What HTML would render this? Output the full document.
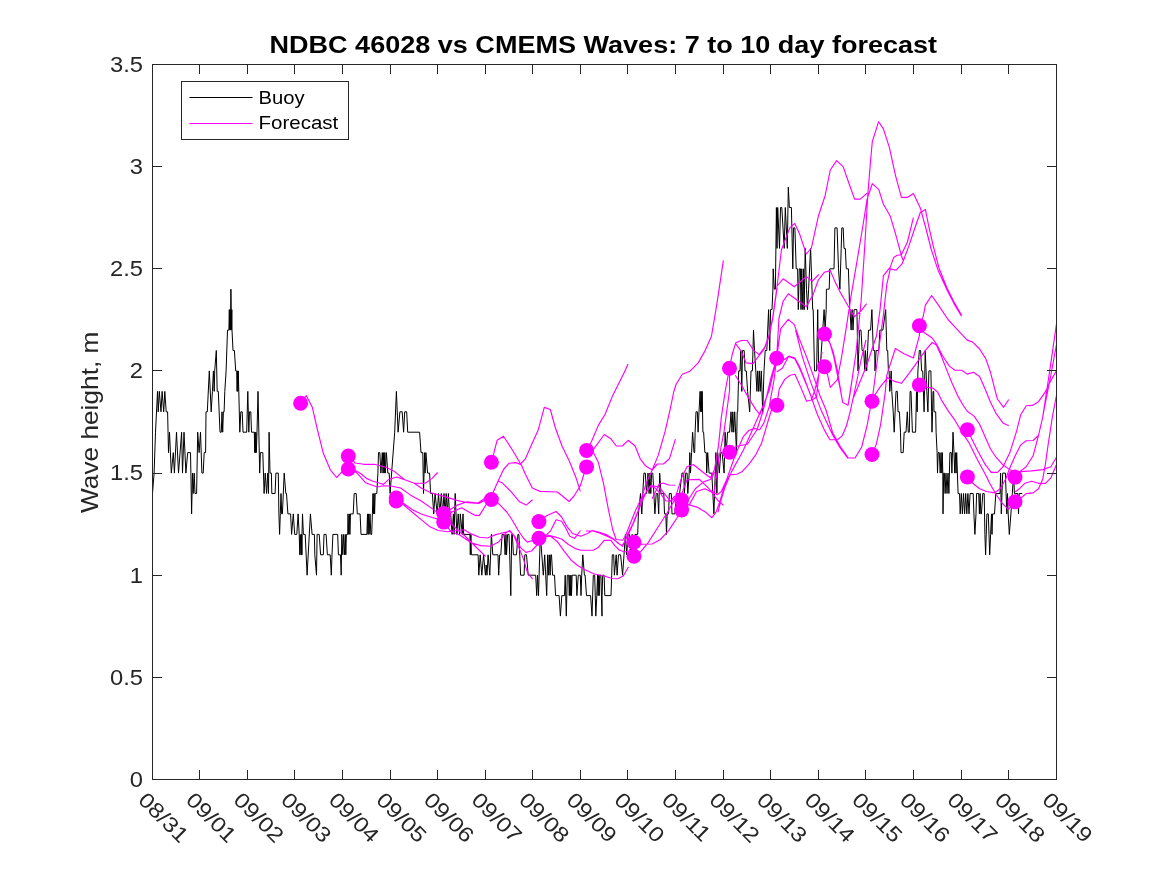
<!DOCTYPE html>
<html><head><meta charset="utf-8"><title>chart</title>
<style>
html,body{margin:0;padding:0;background:#fff;}
body{width:1167px;height:875px;overflow:hidden;font-family:"Liberation Sans",sans-serif;}
svg{display:block;will-change:transform}
text{font-family:"Liberation Sans",sans-serif;fill:#262626}
.xl{font-size:21.2px}
.yl{font-size:21.2px}
.ylab{font-size:23.3px}
.title{font-size:23px;font-weight:bold;fill:#000}
.lg{font-size:18.9px;fill:#000}
</style></head><body>
<svg width="1167" height="875" viewBox="0 0 1167 875">
<rect x="0" y="0" width="1167" height="875" fill="#fff"/>
<defs><clipPath id="cp"><rect x="152.5" y="64.5" width="904.0" height="715.0"/></clipPath></defs>
<g clip-path="url(#cp)" fill="none" stroke-linejoin="round">
<path d="M152.5,493.5 154.1,473.1 155.5,432.2 157.5,391.4 158.2,411.8 159.3,391.4 161.0,411.8 162.1,391.4 163.7,411.8 164.8,391.4 166.2,411.8 167.6,411.8 168.5,452.6 169.5,432.2 171.3,473.1 173.3,452.6 174.4,473.1 176.5,432.2 178.5,473.1 181.6,432.2 182.5,473.1 184.0,432.2 185.9,473.1 187.7,452.6 190.5,452.6 190.9,473.1 191.6,513.9 192.5,473.1 193.2,493.5 194.2,473.1 195.0,493.5 196.6,493.5 197.7,432.2 199.1,452.6 200.5,432.2 201.9,473.1 203.2,473.1 204.2,452.6 205.6,452.6 206.0,411.8 207.3,411.8 209.3,370.9 211.2,411.8 212.4,391.4 213.4,370.9 214.2,391.4 214.7,370.9 216.3,350.5 217.2,391.4 218.3,391.4 220.0,432.2 221.3,432.2 222.0,411.8 222.7,432.2 223.4,411.8 224.1,411.8 224.8,391.4 226.1,370.9 227.5,330.1 228.9,330.1 229.3,309.6 229.7,330.1 230.1,309.6 230.5,330.1 230.9,289.2 231.5,330.1 231.8,309.6 232.0,330.1 233.0,350.5 234.4,350.5 235.7,370.9 236.7,370.9 237.1,391.4 237.5,370.9 237.9,391.4 238.3,370.9 238.8,391.4 239.8,432.2 240.8,411.8 242.2,411.8 243.0,432.2 246.7,432.2 247.8,391.4 248.8,432.2 249.5,411.8 250.8,411.8 251.5,432.2 254.3,432.2 254.7,452.6 255.1,432.2 255.5,452.6 255.9,432.2 256.3,452.6 257.0,432.2 258.0,391.4 259.7,473.1 260.4,452.6 262.8,452.6 264.1,493.5 265.2,473.1 266.6,493.5 267.7,473.1 268.5,493.5 269.1,432.2 270.0,473.1 271.4,473.1 271.8,493.5 275.1,493.5 275.9,473.1 278.3,473.1 278.9,513.9 279.6,534.4 280.3,513.9 281.0,493.5 281.7,513.9 282.4,513.9 284.2,473.1 285.8,493.5 286.5,493.5 287.9,513.9 290.6,513.9 291.6,534.4 293.3,513.9 294.7,534.4 296.8,534.4 298.1,513.9 299.2,534.4 299.8,554.8 300.3,534.4 300.9,554.8 301.6,554.8 301.7,534.4 301.9,554.8 302.0,534.4 302.5,513.9 303.4,534.4 305.2,534.4 307.1,575.2 310.4,513.9 312.1,534.4 314.4,534.4 314.8,554.8 316.5,575.2 317.1,534.4 319.2,534.4 320.6,554.8 323.3,554.8 324.0,534.4 326.1,534.4 327.4,554.8 330.2,554.8 331.3,575.2 332.0,554.8 332.9,534.4 337.7,534.4 338.4,554.8 340.5,554.8 341.2,575.2 341.8,534.4 342.8,554.8 343.6,534.4 344.6,554.8 345.3,534.4 345.8,554.8 346.4,534.4 347.7,534.4 348.0,513.9 348.7,534.4 349.4,513.9 349.9,534.4 350.5,513.9 353.2,513.9 354.2,493.5 356.2,493.5 357.3,513.9 360.1,513.9 361.0,534.4 366.9,534.4 367.5,513.9 368.0,534.4 368.6,513.9 369.1,534.4 370.0,513.9 370.8,534.4 371.7,534.4 372.4,513.9 373.0,493.5 373.5,513.9 374.1,493.5 374.6,513.9 375.2,493.5 376.8,493.5 377.9,473.1 378.5,452.6 379.8,452.6 380.9,473.1 382.3,452.6 383.0,473.1 383.7,452.6 384.2,473.1 384.8,452.6 385.3,473.1 386.4,452.6 387.8,473.1 389.2,473.1 390.1,493.5 391.6,473.1 394.7,432.2 396.4,391.4 398.1,432.2 399.9,411.8 402.2,411.8 403.6,432.2 404.7,411.8 406.7,411.8 407.7,432.2 419.6,432.2 421.0,452.6 422.8,452.6 423.5,493.5 424.6,452.6 425.1,473.1 425.9,452.6 427.6,473.1 429.6,473.1 430.6,493.5 432.4,493.5 433.7,513.9 435.1,493.5 437.2,513.9 438.5,493.5 439.9,513.9 441.3,493.5 442.7,513.9 444.0,493.5 445.1,513.9 446.2,493.5 447.3,513.9 448.4,493.5 449.5,513.9 450.7,513.9 452.1,534.4 453.4,513.9 454.1,534.4 455.2,493.5 456.9,534.4 458.2,513.9 459.6,534.4 460.3,513.9 462.3,534.4 463.0,513.9 463.7,534.4 469.9,534.4 470.3,554.8 470.9,534.4 471.4,554.8 478.1,554.8 478.8,575.2 480.2,554.8 481.8,575.2 483.6,554.8 485.4,575.2 486.2,565.0 487.0,575.2 488.1,554.8 489.8,575.2 491.4,534.4 492.8,554.8 498.0,554.8 498.7,575.2 499.7,554.8 500.8,554.8 502.1,534.4 504.2,534.4 505.1,554.8 506.0,534.4 506.5,554.8 507.6,534.4 509.0,534.4 509.7,554.8 510.8,595.6 511.7,534.4 512.4,534.4 513.4,554.8 516.5,554.8 517.9,534.4 518.9,534.4 520.6,575.2 524.1,575.2 524.8,554.8 526.5,554.8 528.2,575.2 535.7,575.2 536.7,595.6 537.5,575.2 538.5,595.6 540.3,534.4 543.3,575.2 544.7,554.8 545.7,575.2 546.7,595.6 547.7,554.8 548.5,575.2 549.3,554.8 550.1,575.2 550.8,554.8 551.5,554.8 552.6,575.2 554.5,575.2 555.6,595.6 559.1,595.6 560.4,616.1 561.8,595.6 564.5,595.6 565.2,575.2 566.3,616.1 567.3,575.2 568.7,575.2 569.3,595.6 569.9,575.2 570.4,595.6 571.0,575.2 571.5,595.6 572.1,575.2 576.2,575.2 576.9,595.6 578.3,575.2 580.3,575.2 581.0,595.6 581.7,575.2 582.8,554.8 584.4,575.2 585.1,575.2 586.5,595.6 590.6,595.6 592.0,616.1 593.3,575.2 594.7,575.2 595.8,616.1 596.8,595.6 597.6,575.2 598.1,595.6 598.7,575.2 599.2,595.6 599.8,575.2 600.9,575.2 602.0,616.1 602.1,595.6 602.7,575.2 604.1,575.2 604.8,595.6 611.0,595.6 611.7,575.2 612.3,554.8 613.7,554.8 614.4,575.2 616.2,554.8 617.1,575.2 618.5,554.8 620.6,554.8 622.6,575.2 624.0,554.8 625.4,534.4 626.7,554.8 628.1,534.4 629.5,534.4 630.9,554.8 632.2,534.4 633.6,554.8 635.0,534.4 637.7,534.4 638.4,513.9 640.5,493.5 641.8,513.9 642.8,493.5 643.9,473.1 645.3,473.1 646.6,493.5 648.0,473.1 649.1,493.5 649.9,473.1 650.8,493.5 651.6,473.1 652.8,473.1 654.9,513.9 656.2,493.5 657.6,493.5 658.7,513.9 659.7,473.1 661.0,493.5 663.8,493.5 664.5,513.9 665.8,513.9 666.5,534.4 667.2,513.9 668.6,513.9 669.3,493.5 671.3,493.5 672.0,513.9 674.8,513.9 676.8,493.5 679.6,493.5 682.0,473.1 683.7,473.1 684.4,493.5 685.7,473.1 687.1,473.1 687.8,493.5 689.2,473.1 689.8,452.6 690.5,473.1 691.6,452.6 692.6,432.2 694.0,452.6 694.7,452.6 695.1,432.2 696.0,411.8 697.4,411.8 698.1,432.2 699.0,411.8 700.1,391.4 700.7,411.8 701.2,391.4 701.8,411.8 702.2,391.4 702.9,432.2 703.6,432.2 704.9,452.6 706.3,452.6 706.7,473.1 707.7,452.6 709.1,473.1 711.8,473.1 713.9,513.9 715.9,452.6 716.9,493.5 717.7,452.6 719.3,473.1 720.7,452.6 722.1,452.6 724.1,473.1 725.1,432.2 726.2,452.6 727.6,432.2 729.6,432.2 731.0,411.8 732.0,432.2 732.8,411.8 733.7,432.2 734.7,411.8 736.5,452.6 737.2,411.8 737.7,411.8 738.7,370.9 740.0,370.9 740.8,350.5 741.8,391.4 742.5,350.5 744.2,350.5 745.0,370.9 746.3,370.9 747.6,391.4 749.7,411.8 751.0,370.9 752.4,370.9 753.5,330.1 754.5,350.5 755.8,370.9 756.9,391.4 757.6,370.9 758.5,391.4 759.3,370.9 760.2,391.4 761.3,370.9 762.7,411.8 764.0,370.9 765.2,350.5 766.8,350.5 768.6,309.6 769.7,350.5 770.6,309.6 772.0,309.6 772.9,289.2 773.2,268.8 774.3,289.2 775.4,289.2 776.4,207.5 777.0,248.4 777.7,207.5 779.5,248.4 780.5,207.5 781.8,207.5 784.2,248.4 785.3,207.5 787.3,248.4 788.3,187.1 789.4,207.5 791.4,207.5 792.8,268.8 793.5,227.9 794.9,227.9 796.2,268.8 797.6,268.8 798.3,309.6 799.3,268.8 800.4,268.8 801.0,309.6 801.7,268.8 802.8,309.6 803.4,268.8 804.2,309.6 805.2,248.4 806.5,289.2 807.5,309.6 808.6,289.2 810.6,248.4 812.7,309.6 813.2,309.6 814.5,370.9 816.6,370.9 817.7,309.6 818.7,370.9 820.0,370.9 824.1,309.6 825.1,330.1 826.2,309.6 826.4,289.2 829.2,289.2 829.8,268.8 834.0,268.8 834.9,227.9 837.1,227.9 838.5,268.8 839.9,289.2 841.2,248.4 841.8,227.9 843.2,227.9 844.0,248.4 845.3,248.4 846.3,268.8 848.4,268.8 849.7,309.6 850.0,309.6 851.1,330.1 852.1,309.6 853.0,330.1 854.1,309.6 856.9,309.6 858.0,370.9 859.6,330.1 861.0,330.1 862.1,350.5 863.7,350.5 864.8,370.9 865.4,350.5 866.7,370.9 867.6,350.5 868.5,330.1 870.6,330.1 871.9,309.6 873.3,350.5 874.7,350.5 875.0,370.9 876.1,350.5 878.8,350.5 879.9,330.1 882.9,330.1 885.7,309.6 886.8,350.5 887.7,350.5 888.4,370.9 889.1,370.9 889.8,391.4 891.2,370.9 891.8,391.4 893.2,411.8 894.2,432.2 896.0,391.4 897.3,391.4 898.0,411.8 899.4,411.8 900.5,432.2 901.0,452.6 903.2,452.6 904.2,432.2 906.0,432.2 907.3,411.8 908.3,432.2 909.3,432.2 910.1,391.4 911.0,391.4 912.4,432.2 915.6,432.2 916.5,391.4 917.2,411.8 917.9,370.9 919.3,350.5 920.6,350.5 921.6,370.9 922.7,370.9 924.1,411.8 925.2,350.5 926.1,370.9 926.8,391.4 927.9,411.8 928.9,370.9 930.9,370.9 931.6,411.8 932.0,432.2 932.6,411.8 933.0,391.4 933.7,391.4 934.0,411.8 935.7,411.8 936.1,432.2 937.1,452.6 937.5,473.1 938.2,452.6 939.3,452.6 940.2,473.1 941.0,452.6 941.8,473.1 942.3,452.6 942.8,473.1 943.0,513.9 943.7,473.1 944.4,473.1 945.1,493.5 946.0,473.1 947.0,493.5 948.0,473.1 948.9,493.5 949.9,452.6 951.3,452.6 951.9,473.1 953.0,432.2 954.0,452.6 954.7,473.1 955.4,452.6 956.1,473.1 956.7,452.6 958.1,493.5 959.5,493.5 960.2,513.9 961.3,493.5 962.4,513.9 963.5,493.5 964.6,513.9 965.7,493.5 966.8,513.9 967.9,493.5 969.0,513.9 970.1,493.5 973.2,493.5 973.9,513.9 974.9,534.4 976.0,513.9 976.6,493.5 978.7,493.5 979.4,513.9 980.1,493.5 980.8,513.9 981.4,513.9 982.8,493.5 984.2,493.5 984.9,534.4 985.6,554.8 986.9,513.9 988.3,513.9 989.7,554.8 990.6,534.4 991.5,513.9 992.0,534.4 992.6,513.9 994.5,513.9 995.8,493.5 1000.0,493.5 1000.6,473.1 1001.3,513.9 1002.7,473.1 1005.4,473.1 1006.1,493.5 1006.8,513.9 1007.5,493.5 1008.2,513.9 1009.3,534.4 1010.9,513.9 1012.3,493.5 1013.7,473.1 1014.4,493.5 1015.7,493.5 1017.8,493.5 1018.5,513.9 1019.2,493.5 1022.2,493.5" stroke="#000" stroke-width="1"/>
<path d="M300.6,403.3 306.3,395.6 312.3,407.3 317.4,429.6 323.4,453.6 330.3,469.8 336.6,477.5 341.4,472.4 348.3,469.0 356.8,471.2 362.0,474.5 366.3,478.4 372.3,481.0 379.1,483.0 383.4,484.4 388.2,479.8 396.5,477.0 404.7,479.8 414.3,483.2 425.3,483.2 432.1,478.4 437.6,472.5M348.3,456.1 355.1,463.0 363.7,464.3 374.0,464.3 386.0,467.3 393.7,470.9 404.7,479.8 414.3,483.2 421.2,488.0 430.8,492.8 445.8,496.9 456.8,500.4 467.8,502.8 478.8,503.4 484.3,500.4 491.4,499.5M348.3,469.0 356.0,472.4 360.3,476.7 365.4,482.7 372.3,485.3 377.4,487.0 383.4,485.8 391.0,486.0 400.6,488.0 410.2,494.9 421.2,501.0 432.1,508.6 437.6,512.7 443.8,514.8 450.0,522.3 456.8,529.2 465.0,536.0 476.0,547.0 485.6,556.5M396.2,499.0 404.0,503.8 412.9,510.0 421.2,514.0 432.1,517.5 437.6,518.9 443.8,521.6 450.6,512.6 461.6,507.8 469.8,512.6 475.3,515.4 479.4,515.4 484.9,506.5 491.5,496.0 498.0,481.2 502.3,482.8 510.8,491.4 519.4,501.7 526.3,505.1 532.5,499.7M396.2,501.0 404.0,505.2 412.9,512.7 421.2,519.6 429.4,526.4 438.2,530.5 447.8,531.8 457.4,530.5 464.3,529.8 471.2,533.9 479.4,537.3 487.6,538.0 495.8,534.6 504.1,532.5 509.6,531.2 513.7,535.3 517.8,544.9 523.3,558.6 527.4,572.3 532.6,579.2M443.7,522.2 450.6,531.2 460.2,535.3 471.2,542.8 480.8,545.6 490.4,546.2 498.6,542.1 504.8,533.9 509.6,530.5 515.0,536.6 520.5,547.6 526.0,552.4 531.5,551.0 539.0,543.0 546.5,534.9 550.6,530.8 556.1,519.8 561.6,521.2 565.7,528.0 569.8,536.2 574.6,538.3 580.5,530.5M443.7,513.5 450.6,509.2 457.4,505.1 467.0,501.7 478.0,503.0 484.9,498.2 491.5,496.0 498.0,481.2 503.5,469.5 508.9,463.3 515.8,462.6 521.3,464.7 525.4,474.3 532.3,488.0 540.0,491.4 557.4,492.0 563.0,496.5 569.1,501.5 574.0,496.0 580.1,486.3 584.0,474.0 586.6,467.0M491.3,462.3 493.7,453.7 497.1,440.3 503.5,436.2 512.6,450.3 520.6,464.0 525.4,458.8 531.4,445.1 538.3,429.7 544.3,407.4 550.3,409.5 555.4,428.0 562.3,446.8 569.1,460.5 576.0,477.7 580.3,491.4M491.5,499.3 498.6,503.7 506.8,512.0 512.3,520.2 517.8,529.8 523.3,538.0 527.4,542.1 531.5,540.8 539.0,538.3 546.6,536.6 550.6,536.2 557.4,541.7 564.3,551.3 571.2,560.2 578.0,565.7 584.9,569.8 594.5,574.0 604.1,576.0 612.3,578.5 617.8,578.8 623.3,576.0 628.5,566.7M538.9,521.8 546.5,515.7 556.1,511.5 561.6,517.0 567.0,526.6 572.5,533.5 580.8,536.2 587.6,533.5 592.4,530.5 598.6,532.1 606.8,534.9 613.7,539.0 617.8,543.1 621.9,545.8 624.6,541.7 628.8,533.5 634.3,521.2 639.7,507.4 646.6,491.0 650.7,485.5 659.0,486.9 664.4,493.7 669.9,500.6 675.4,499.2 681.8,498.8M538.9,538.3 546.5,534.9 554.7,536.9 561.6,539.0 568.4,544.5 575.3,548.6 580.8,550.2 593.1,550.2 598.6,547.2 604.1,540.4 610.9,540.4 615.0,545.8 619.2,550.0 624.6,552.0 628.8,551.3 634.0,542.0M586.6,450.3 591.4,441.7 598.3,425.4 605.1,414.3 612.0,397.1 620.5,380.0 624.5,372.0 628.0,364.0M586.6,458.0 594.0,448.6 604.3,434.5 611.1,439.1 616.3,446.0 622.2,446.0 628.2,440.3 635.1,446.0 640.2,458.8 645.4,465.7 652.2,470.0 657.4,464.0 663.4,464.0 669.4,458.8 675.4,439.1M586.6,450.4 593.1,452.0 598.3,462.3 603.4,482.8 608.5,510.2 612.8,530.0 616.2,539.5 622.6,540.2 625.4,536.0 630.2,523.7 635.7,510.0 641.2,498.8 646.6,482.3 652.2,470.0 658.2,455.4 665.1,431.4 670.2,409.1 673.7,392.0 676.0,384.5 682.3,374.2 690.0,371.2 698.2,362.9 705.1,350.6 711.4,336.5 716.6,305.7 723.4,260.4M586.0,531.0 593.0,531.0 600.0,533.3 608.2,536.7 613.7,539.5 622.6,546.4 627.4,534.7 632.9,523.7 638.4,510.0 643.9,495.0 650.8,486.4 654.9,487.8 660.4,493.3 665.8,500.8 670.0,501.5 674.8,496.0M652.1,498.8 659.0,484.4 663.1,483.0 668.6,485.0 675.4,485.3M634.0,542.2 641.2,544.3 652.1,544.0 660.4,539.5 668.6,530.6 676.8,518.2 681.8,509.0M634.0,556.3 641.2,551.2 648.0,542.9 657.6,527.8 667.2,512.7 674.7,499.7 681.6,477.8 687.0,466.8 693.2,464.5 698.0,468.2 704.9,473.7 710.4,477.8 714.5,469.6 718.6,444.9 721.3,417.4 725.4,390.0 729.5,368.3M681.6,494.3 687.0,479.8 699.4,479.4 704.9,484.7 710.4,490.1 717.2,494.9 721.3,491.5 726.8,479.2 735.0,455.8 743.3,436.6 748.8,430.5 754.3,428.4 759.7,429.8 763.9,422.9 769.3,406.5 770.7,398.2 774.0,380.0 776.7,358.2M681.8,509.0 688.4,499.7 695.3,488.8 703.5,481.9 711.0,479.2 714.5,472.3M681.8,509.0 689.8,503.9 696.6,491.5 704.9,488.8 711.7,492.2 717.2,499.7 723.4,505.2M729.6,452.4 736.4,446.2 747.4,444.2 751.5,438.0 757.0,429.8 762.7,412.3 766.8,395.8 770.9,378.0 776.7,358.2M681.8,509.0 687.4,504.4 697.0,507.1 705.3,511.9 711.9,517.7 716.2,511.9 720.4,499.6 724.5,485.8 730.0,474.9 736.8,474.2 742.3,471.4 749.2,463.9 756.0,454.3 761.5,443.3 765.6,429.6 768.4,420.0 773.5,403.7 776.9,405.3M713.5,496.8 716.2,478.0 718.6,460.0 724.1,431.2 729.6,390.0 729.5,368.3M718.0,512.0 720.4,502.3 724.5,488.6 731.3,472.1 743.3,450.3 754.3,425.7 763.9,403.7 769.3,390.0 776.7,358.2M735.3,375.3 742.1,386.2 749.0,398.6 755.8,409.6 760.0,414.4 763.9,403.7M729.5,368.3 732.2,354.5 735.7,342.8 741.2,340.5 747.3,340.5 753.5,350.4 759.0,354.5 764.5,347.6 768.6,336.6 772.7,317.4 777.1,286.0 781.4,250.0 785.7,238.5 790.0,227.4 794.8,223.5 799.4,233.4 806.3,254.0 811.4,248.0 818.3,216.3 825.1,195.7 830.3,170.0 836.6,160.6 843.1,166.6 849.1,183.7 854.6,199.1 860.3,199.1 867.1,193.1M735.3,343.0 740.8,350.6 746.2,362.9 753.1,363.6 758.6,356.1 764.1,349.2 768.6,338.0 772.7,319.0 777.1,288.0M777.1,286.0 783.1,278.8 794.3,286.8 806.3,276.6 812.3,281.2 818.8,274.5M776.7,358.2 778.9,318.5 783.1,301.4 788.3,293.7 797.0,300.0 806.3,306.6 813.1,294.6 818.3,280.0 824.3,272.3 830.3,270.6 835.4,282.6 840.5,292.8 847.4,304.8 854.3,316.8 861.1,310.8 866.6,303.6M776.7,358.2 780.6,328.8 788.3,319.4 794.3,324.6 799.4,339.1 806.3,356.3 813.1,375.1 820.0,395.7 826.0,410.0 832.7,432.9 840.0,446.0 848.3,458.0 855.0,458.0 861.7,447.0 867.3,424.6 870.6,406.7 871.7,401.2M776.8,372.0 782.3,368.2 788.5,356.5 794.7,358.6 800.1,369.6 807.0,386.0 812.5,399.7 816.6,397.0 818.7,375.0 822.0,352.0M776.8,405.3 779.2,389.0 784.7,379.4 790.1,375.3 794.9,374.2 799.7,384.9 806.6,401.3 811.4,400.0 814.8,390.4 818.9,373.9M776.7,358.1 784.7,359.5 788.8,356.1 794.9,358.1 799.7,367.0 805.2,380.8 810.7,395.8 817.6,415.0 824.4,430.1 829.9,439.7 837.5,439.7 842.3,435.6 846.4,426.0 850.0,412.3 856.0,385.0 861.0,360.0 866.0,340.0M795.6,330.0 802.5,357.4 810.7,382.1 821.2,410.6 832.2,433.9 839.5,447.0 848.0,458.5M824.5,334.0 829.6,342.1 833.1,351.7 837.2,369.6 842.7,402.5 848.1,405.2 852.3,377.8 856.0,352.8M824.5,366.7 827.6,375.0 830.3,387.4 837.2,379.8 841.3,358.6 846.8,324.3 850.9,296.9 856.0,267.1 862.8,226.5 867.1,199.1 872.3,183.7 878.8,189.7 883.4,204.3 890.3,216.3 895.4,233.4 901.4,255.7 903.0,260.0M849.1,400.0 856.0,352.8 861.1,301.4 864.5,250.0 868.0,192.3 870.5,161.4 872.3,141.7 878.6,121.7 883.4,128.9 889.4,147.7 895.4,175.1 901.4,197.4 907.4,197.4 913.4,193.5 920.2,207.7 925.4,226.5 931.4,250.0 938.2,270.6 946.8,289.4 953.7,303.1 961.5,316.1M872.3,399.0 878.3,352.8 883.4,315.1 886.8,284.3 890.3,268.9 896.2,270.2 902.2,263.7 909.1,245.4 914.2,230.0 920.2,212.8 925.4,209.4 928.8,226.5 933.1,245.4 939.0,268.0 947.0,288.0 954.0,302.0 961.5,315.0M852.5,400.0 866.3,366.5 876.5,335.7 880.0,310.0 883.4,275.7 890.3,267.1 893.7,257.4 897.1,255.3 901.4,254.8 907.4,242.0 913.4,217.6M872.0,454.5 876.2,444.6 880.6,424.6 885.1,393.4 886.8,375.1 895.4,348.5 904.0,353.7 913.4,358.0 919.4,335.7 919.4,325.7M872.3,399.0 880.0,387.1 887.7,377.7 893.7,381.1 901.4,383.3 909.1,373.4 917.7,361.4 926.2,349.4 932.2,342.5 936.4,344.9 941.2,355.8 946.6,369.6 952.1,383.3 957.6,395.6 963.1,405.2 967.2,411.3 974.1,416.1 979.6,424.3 985.0,436.6 990.5,449.0 996.0,457.2 1002.9,464.8 1009.7,469.6 1015.0,472.3M919.5,325.7 923.3,316.1 925.4,305.1 931.6,295.5 938.4,305.1 948.0,319.5 957.6,329.8 967.2,340.1 972.7,342.1 979.6,349.0 985.7,358.6 990.5,372.3 994.7,388.8 997.4,399.0 1003.6,407.3 1008.8,399.5M919.5,325.7 924.0,332.5 932.2,338.0 937.0,344.9 942.5,355.8 949.4,366.1 954.9,370.2 961.7,370.2 967.2,374.1 973.4,372.3 979.6,376.4 985.0,388.8 990.5,402.3 996.0,413.3 1002.9,422.9 1008.8,425.7M919.4,384.9 927.4,387.4 932.9,388.1 937.7,392.2 941.2,399.6 948.0,410.6 954.9,420.2 960.4,429.8 968.6,442.1 976.8,458.6 985.0,473.7 990.5,484.7 996.0,494.3 1001.5,502.5 1008.4,509.4 1015.0,501.8M967.5,429.8 971.3,438.0 978.2,451.7 985.0,464.1 991.2,472.3 997.4,472.3 1002.9,466.8 1009.7,453.1 1016.6,431.2 1020.7,414.7 1026.2,405.8 1032.4,405.4 1038.5,401.7 1044.7,392.9 1050.9,380.5 1056.4,370.9M967.5,477.1 972.7,483.3 979.6,488.8 986.4,491.5 994.7,492.9 1000.1,488.8 1005.6,479.2 1009.7,468.2 1015.2,455.8 1020.7,444.9 1026.2,440.8 1033.1,440.5 1038.5,435.3 1042.7,417.4 1046.8,390.0 1049.5,372.3 1056.4,324.3M1015.0,477.1 1020.7,470.9 1026.2,466.8 1033.1,455.8 1038.5,435.3M1015.0,477.1 1020.7,471.6 1031.7,470.9 1042.7,469.6 1050.9,466.8 1056.4,457.2M1015.0,492.0 1019.3,488.8 1024.8,483.3 1031.7,481.2 1038.5,483.3 1045.4,483.3 1050.9,477.8 1056.4,464.8M1015.0,501.8 1022.1,497.0 1026.2,493.6 1033.1,492.9 1038.5,488.8 1042.7,479.2 1045.4,464.1 1048.1,444.9 1052.3,417.4 1056.4,395.5M1042.7,417.4 1044.0,410.0 1050.9,375.0 1056.4,344.9M824.5,334.0 830.3,344.3 833.7,356.3 837.1,373.4 840.5,390.5 842.7,402.5" stroke="#f0f" stroke-width="1.15"/>
<circle cx="300.6" cy="403.3" r="7.5" fill="#f0f" stroke="none"/>
<circle cx="348.3" cy="456.1" r="7.5" fill="#f0f" stroke="none"/>
<circle cx="348.3" cy="469.0" r="7.5" fill="#f0f" stroke="none"/>
<circle cx="396.2" cy="498.0" r="7.5" fill="#f0f" stroke="none"/>
<circle cx="396.2" cy="501.0" r="7.5" fill="#f0f" stroke="none"/>
<circle cx="443.7" cy="513.5" r="7.5" fill="#f0f" stroke="none"/>
<circle cx="443.7" cy="522.1" r="7.5" fill="#f0f" stroke="none"/>
<circle cx="491.4" cy="462.3" r="7.5" fill="#f0f" stroke="none"/>
<circle cx="491.4" cy="499.5" r="7.5" fill="#f0f" stroke="none"/>
<circle cx="538.9" cy="521.6" r="7.5" fill="#f0f" stroke="none"/>
<circle cx="538.9" cy="538.3" r="7.5" fill="#f0f" stroke="none"/>
<circle cx="586.6" cy="450.4" r="7.5" fill="#f0f" stroke="none"/>
<circle cx="586.6" cy="466.9" r="7.5" fill="#f0f" stroke="none"/>
<circle cx="634.0" cy="542.2" r="7.5" fill="#f0f" stroke="none"/>
<circle cx="634.0" cy="556.3" r="7.5" fill="#f0f" stroke="none"/>
<circle cx="681.6" cy="499.9" r="7.5" fill="#f0f" stroke="none"/>
<circle cx="681.6" cy="509.9" r="7.5" fill="#f0f" stroke="none"/>
<circle cx="729.5" cy="368.3" r="7.5" fill="#f0f" stroke="none"/>
<circle cx="729.6" cy="452.3" r="7.5" fill="#f0f" stroke="none"/>
<circle cx="776.7" cy="358.2" r="7.5" fill="#f0f" stroke="none"/>
<circle cx="776.9" cy="405.3" r="7.5" fill="#f0f" stroke="none"/>
<circle cx="824.5" cy="334.0" r="7.5" fill="#f0f" stroke="none"/>
<circle cx="824.5" cy="366.7" r="7.5" fill="#f0f" stroke="none"/>
<circle cx="872.0" cy="401.2" r="7.5" fill="#f0f" stroke="none"/>
<circle cx="872.0" cy="454.5" r="7.5" fill="#f0f" stroke="none"/>
<circle cx="919.4" cy="325.7" r="7.5" fill="#f0f" stroke="none"/>
<circle cx="919.4" cy="384.9" r="7.5" fill="#f0f" stroke="none"/>
<circle cx="967.4" cy="429.8" r="7.5" fill="#f0f" stroke="none"/>
<circle cx="967.4" cy="476.9" r="7.5" fill="#f0f" stroke="none"/>
<circle cx="1015.0" cy="477.1" r="7.5" fill="#f0f" stroke="none"/>
<circle cx="1015.0" cy="501.8" r="7.5" fill="#f0f" stroke="none"/>
</g>
<rect x="152.5" y="64.5" width="904.0" height="715.0" fill="none" stroke="#262626" stroke-width="1"/>
<path d="M199.5 779.5v-9.5M199.5 64.5v9.5M247.5 779.5v-9.5M247.5 64.5v9.5M294.5 779.5v-9.5M294.5 64.5v9.5M342.5 779.5v-9.5M342.5 64.5v9.5M390.5 779.5v-9.5M390.5 64.5v9.5M437.5 779.5v-9.5M437.5 64.5v9.5M485.5 779.5v-9.5M485.5 64.5v9.5M532.5 779.5v-9.5M532.5 64.5v9.5M580.5 779.5v-9.5M580.5 64.5v9.5M627.5 779.5v-9.5M627.5 64.5v9.5M675.5 779.5v-9.5M675.5 64.5v9.5M723.5 779.5v-9.5M723.5 64.5v9.5M770.5 779.5v-9.5M770.5 64.5v9.5M818.5 779.5v-9.5M818.5 64.5v9.5M865.5 779.5v-9.5M865.5 64.5v9.5M913.5 779.5v-9.5M913.5 64.5v9.5M961.5 779.5v-9.5M961.5 64.5v9.5M1008.5 779.5v-9.5M1008.5 64.5v9.5M152.5 677.5h9.5M1056.5 677.5h-9.5M152.5 575.5h9.5M1056.5 575.5h-9.5M152.5 473.5h9.5M1056.5 473.5h-9.5M152.5 370.5h9.5M1056.5 370.5h-9.5M152.5 268.5h9.5M1056.5 268.5h-9.5M152.5 166.5h9.5M1056.5 166.5h-9.5" stroke="#262626" stroke-width="1" fill="none"/>
<text class="xl" transform="translate(137.1,801.3) rotate(45) scale(1.14,1)">08/31</text>
<text class="xl" transform="translate(184.7,801.3) rotate(45) scale(1.14,1)">09/01</text>
<text class="xl" transform="translate(232.3,801.3) rotate(45) scale(1.14,1)">09/02</text>
<text class="xl" transform="translate(279.8,801.3) rotate(45) scale(1.14,1)">09/03</text>
<text class="xl" transform="translate(327.4,801.3) rotate(45) scale(1.14,1)">09/04</text>
<text class="xl" transform="translate(375.0,801.3) rotate(45) scale(1.14,1)">09/05</text>
<text class="xl" transform="translate(422.6,801.3) rotate(45) scale(1.14,1)">09/06</text>
<text class="xl" transform="translate(470.2,801.3) rotate(45) scale(1.14,1)">09/07</text>
<text class="xl" transform="translate(517.7,801.3) rotate(45) scale(1.14,1)">09/08</text>
<text class="xl" transform="translate(565.3,801.3) rotate(45) scale(1.14,1)">09/09</text>
<text class="xl" transform="translate(612.9,801.3) rotate(45) scale(1.14,1)">09/10</text>
<text class="xl" transform="translate(660.5,801.3) rotate(45) scale(1.14,1)">09/11</text>
<text class="xl" transform="translate(708.0,801.3) rotate(45) scale(1.14,1)">09/12</text>
<text class="xl" transform="translate(755.6,801.3) rotate(45) scale(1.14,1)">09/13</text>
<text class="xl" transform="translate(803.2,801.3) rotate(45) scale(1.14,1)">09/14</text>
<text class="xl" transform="translate(850.8,801.3) rotate(45) scale(1.14,1)">09/15</text>
<text class="xl" transform="translate(898.4,801.3) rotate(45) scale(1.14,1)">09/16</text>
<text class="xl" transform="translate(945.9,801.3) rotate(45) scale(1.14,1)">09/17</text>
<text class="xl" transform="translate(993.5,801.3) rotate(45) scale(1.14,1)">09/18</text>
<text class="xl" transform="translate(1041.1,801.3) rotate(45) scale(1.14,1)">09/19</text>
<text class="yl" transform="translate(143,786.8) scale(1.12,1)" text-anchor="end">0</text>
<text class="yl" transform="translate(143,684.7) scale(1.12,1)" text-anchor="end">0.5</text>
<text class="yl" transform="translate(143,582.5) scale(1.12,1)" text-anchor="end">1</text>
<text class="yl" transform="translate(143,480.4) scale(1.12,1)" text-anchor="end">1.5</text>
<text class="yl" transform="translate(143,378.2) scale(1.12,1)" text-anchor="end">2</text>
<text class="yl" transform="translate(143,276.1) scale(1.12,1)" text-anchor="end">2.5</text>
<text class="yl" transform="translate(143,173.9) scale(1.12,1)" text-anchor="end">3</text>
<text class="yl" transform="translate(143,71.8) scale(1.12,1)" text-anchor="end">3.5</text>
<text class="ylab" transform="translate(98.3,422.3) rotate(-90) scale(1.127,1)" text-anchor="middle">Wave height, m</text>
<text class="title" transform="translate(603.3,52.9) scale(1.176,1)" text-anchor="middle">NDBC 46028 vs CMEMS Waves: 7 to 10 day forecast</text>
<rect x="181.5" y="81.5" width="167" height="58" fill="#fff" stroke="#262626" stroke-width="1"/>
<path d="M189.5 97.5H252.5" stroke="#000" stroke-width="1"/>
<path d="M189.5 123.5H252.5" stroke="#f0f" stroke-width="1"/>
<text class="lg" transform="translate(258.6,103.9) scale(1.07,1)">Buoy</text>
<text class="lg" transform="translate(258.6,128.8) scale(1.085,1)">Forecast</text>
</svg>
</body></html>
